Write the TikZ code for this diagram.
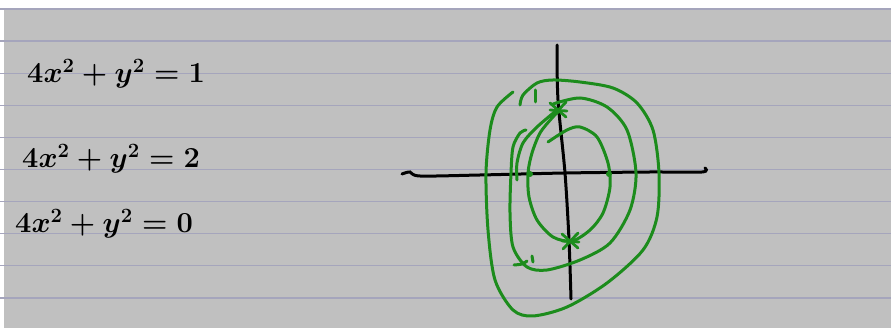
\RequirePackage{fix-cm}
\documentclass[tikz,border=0pt]{standalone}
\usepackage{amsmath}
\usepackage{xcolor}
\usepackage{tikz}
\usetikzlibrary{calc}

\definecolor{paper}{RGB}{192,192,192}
\definecolor{rule}{RGB}{165,165,188}
\definecolor{pen}{RGB}{28,140,28}

\tikzset{
  ruling/.style={rule, line width=1.3pt},
  axis/.style={black, line width=3pt, line cap=round},
  level/.style={pen, line width=3pt, line cap=round, line join=round},
  eq/.style={anchor=base west, inner sep=0pt, font=\fontsize{29}{34}\selectfont\boldmath},
  starmark/.pic={
    \draw[level, line width=2.8pt] (-8,-7) -- (8,7);
    \draw[level, line width=2.8pt] (8,-8) -- (-7,8);
    \draw[level, line width=2.8pt] (-8,0) -- (9,1);
  }
}

\begin{document}
\begin{tikzpicture}[x=1pt, y=-1pt]
    % Page and ruled lines
    \useasboundingbox (0,0) rectangle (891,328);
    \fill[white] (0,0) rectangle (891,328);
    \fill[paper] (4,8) rectangle (891,328);
    \foreach \i in {0,...,9}
        \draw[ruling] (0,9+32.1*\i) -- (891,9+32.1*\i);

    % Equations
    \node[eq] (eqone) at (27,83) {$4x^2+y^2=1$};
    \node[eq] (eqtwo) at (22,168) {$4x^2+y^2=2$};
    \node[eq] (eqthree) at (15,233) {$4x^2+y^2=0$};

    % Axes
    \coordinate (O) at (565,173);
    \draw[axis] plot[smooth] coordinates {(402,174) (410,172) (420,176) (480,175) (565,173) (650,172) (702,172) (705,168)};
    \draw[axis] plot[smooth] coordinates {(557,45) (558,100) (565,173) (569,240) (571,299)};

    % Outer level curve
    \draw[level] plot[smooth] coordinates {(513,92) (497,107) (490,130) (486,173) (488,230) (495,280)
        (513,310) (533,316) (567,307) (607,283) (643,250) (657,217) (659,173) (653,130)
        (637,103) (613,88) (580,82) (553,80) (537,83) (523,95) (520,105)};
    \draw[level] (535,90) -- (535,102);

    % Middle level curve
    \draw[level] plot[smooth] coordinates {(553,104) (580,98) (607,107) (627,130) (636,173) (630,210)
        (610,243) (580,260) (547,270) (527,267) (513,247) (510,213) (511,173) (513,147)
        (520,133) (526,130)};
    \draw[level] plot[smooth] coordinates {(557,110) (537,127) (523,143) (517,163) (517,180)};
    \draw[level] plot[smooth] coordinates {(514,265) (522,264) (527,261)};
    \draw[level] (532,256) -- (533,262);

    % Inner level curve
    \draw[level] plot[smooth] coordinates {(548,142) (567,130) (580,127) (597,137) (608,163) (610,187)
        (603,213) (590,230) (572,241) (553,237) (537,220) (529,197) (528,173) (532,153)
        (540,133) (552,118) (558,112)};

    % Marked points
    \coordinate (top) at (558,110);
    \coordinate (bot) at (570,241);
    \pic at (top) {starmark};
    \pic at (bot) {starmark};
    \fill[pen] (530,174) circle (3);
    \fill[pen] (609,174) circle (3);
\end{tikzpicture}
\end{document}
